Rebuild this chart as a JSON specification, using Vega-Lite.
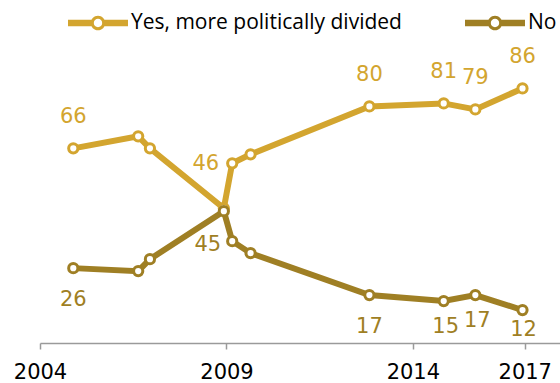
{
  "$schema": "https://vega.github.io/schema/vega-lite/v6.json",
  "width": 522,
  "height": 287,
  "autosize": {"type": "none"},
  "padding": {"left": 40, "top": 56, "right": 0, "bottom": 40},
  "background": "white",
  "config": {"view": {"stroke": null}},
  "data": {
    "format": {"parse": {"date": "date"}},
    "values": [
      {"date": "2004-11-22", "series": "Yes, more politically divided", "value": 66, "label": "66"},
      {"date": "2006-08-20", "series": "Yes, more politically divided", "value": 70},
      {"date": "2006-12-13", "series": "Yes, more politically divided", "value": 66},
      {"date": "2008-12-06", "series": "Yes, more politically divided", "value": 46, "label": "46"},
      {"date": "2009-02-26", "series": "Yes, more politically divided", "value": 61},
      {"date": "2009-08-25", "series": "Yes, more politically divided", "value": 64},
      {"date": "2012-11-01", "series": "Yes, more politically divided", "value": 80, "label": "80"},
      {"date": "2014-10-30", "series": "Yes, more politically divided", "value": 81, "label": "81"},
      {"date": "2015-09-05", "series": "Yes, more politically divided", "value": 79, "label": "79"},
      {"date": "2016-12-10", "series": "Yes, more politically divided", "value": 86, "label": "86"},
      {"date": "2004-11-22", "series": "No", "value": 26, "label": "26"},
      {"date": "2006-08-20", "series": "No", "value": 25},
      {"date": "2006-12-13", "series": "No", "value": 29},
      {"date": "2008-12-06", "series": "No", "value": 45, "label": "45"},
      {"date": "2009-02-26", "series": "No", "value": 35},
      {"date": "2009-08-25", "series": "No", "value": 31},
      {"date": "2012-11-01", "series": "No", "value": 17, "label": "17"},
      {"date": "2014-10-30", "series": "No", "value": 15, "label": "15"},
      {"date": "2015-09-05", "series": "No", "value": 17, "label": "17"},
      {"date": "2016-12-10", "series": "No", "value": 12, "label": "12"}
    ]
  },
  "encoding": {
    "x": {
      "field": "date",
      "type": "temporal",
      "scale": {"domain": [{"year": 2004, "month": 1, "date": 1}, {"year": 2018, "month": 1, "date": 1}]},
      "axis": {
        "values": [{"year": 2004, "month": 1, "date": 1}, {"year": 2009, "month": 1, "date": 1}, {"year": 2014, "month": 1, "date": 1}, {"year": 2017, "month": 1, "date": 1}],
        "format": "%Y",
        "title": null,
        "grid": false,
        "domainColor": "#9a9a9a",
        "domainWidth": 1.5,
        "tickColor": "#9a9a9a",
        "tickWidth": 1.5,
        "tickSize": 6,
        "labelFont": "DejaVu Sans",
        "labelFontSize": 21,
        "labelColor": "#000000",
        "labelPadding": 12,
        "labelFlush": false,
        "labelOverlap": false
      }
    },
    "y": {
      "field": "value",
      "type": "quantitative",
      "scale": {"domain": [1, 96.83], "nice": false, "zero": false},
      "axis": null
    },
    "color": {
      "field": "series",
      "type": "nominal",
      "scale": {"domain": ["Yes, more politically divided", "No"], "range": ["#D3A52F", "#9F7F24"]},
      "legend": {
        "orient": "none",
        "legendX": 28,
        "legendY": -63,
        "direction": "horizontal",
        "title": null,
        "labelFont": "Open Sans",
        "labelFontSize": 21,
        "labelColor": "#000000",
        "labelOffset": 3,
        "labelLimit": 400,
        "columnPadding": 63,
        "symbolSize": 3600,
        "symbolType": "M-1,-0.108 H-0.2 V0.108 H-1 Z M0.2,-0.108 H1 V0.108 H0.2 Z M0.243,0 A0.243,0.243 0 1,1 -0.243,0 A0.243,0.243 0 1,1 0.243,0 Z M0.14,0 A0.14,0.14 0 1,0 -0.14,0 A0.14,0.14 0 1,0 0.14,0 Z",
        "symbolStrokeWidth": 0,
        "encode": {
          "symbols": {
            "update": {
              "fill": {"scale": "color", "field": "value"},
              "fillOpacity": {"value": 1},
              "stroke": {"value": "transparent"},
              "strokeWidth": {"value": 0},
              "opacity": {"value": 1}
            }
          }
        }
      }
    }
  },
  "layer": [
    {"mark": {"type": "line", "strokeWidth": 6}},
    {"mark": {"type": "point", "shape": "circle", "filled": false, "fill": "white", "fillOpacity": 1, "opacity": 1, "strokeWidth": 3, "size": 85}},
    {
      "transform": [{"filter": "datum.series == 'Yes, more politically divided' && isValid(datum.label) && datum.label != '46'"}],
      "mark": {"type": "text", "font": "DejaVu Sans", "fontSize": 21, "baseline": "middle", "align": "center", "dy": -31},
      "encoding": {"text": {"field": "label"}}
    },
    {
      "transform": [{"filter": "datum.label == '46'"}],
      "mark": {"type": "text", "font": "DejaVu Sans", "fontSize": 21, "baseline": "middle", "align": "center", "dx": -18, "dy": -44},
      "encoding": {"text": {"field": "label"}}
    },
    {
      "transform": [{"filter": "datum.label == '45'"}],
      "mark": {"type": "text", "font": "DejaVu Sans", "fontSize": 21, "baseline": "middle", "align": "center", "dx": -16, "dy": 34},
      "encoding": {"text": {"field": "label"}}
    },
    {
      "transform": [{"filter": "datum.series == 'No' && (datum.label == '26' || (datum.label == '17' && year(datum.date) == 2012))"}],
      "mark": {"type": "text", "font": "DejaVu Sans", "fontSize": 21, "baseline": "middle", "align": "center", "dy": 32},
      "encoding": {"text": {"field": "label"}}
    },
    {
      "transform": [{"filter": "datum.series == 'No' && (datum.label == '15' || (datum.label == '17' && year(datum.date) == 2015))"}],
      "mark": {"type": "text", "font": "DejaVu Sans", "fontSize": 21, "baseline": "middle", "align": "center", "dx": 2, "dy": 26},
      "encoding": {"text": {"field": "label"}}
    },
    {
      "transform": [{"filter": "datum.label == '12'"}],
      "mark": {"type": "text", "font": "DejaVu Sans", "fontSize": 21, "baseline": "middle", "align": "center", "dx": 1, "dy": 20},
      "encoding": {"text": {"field": "label"}}
    }
  ]
}
